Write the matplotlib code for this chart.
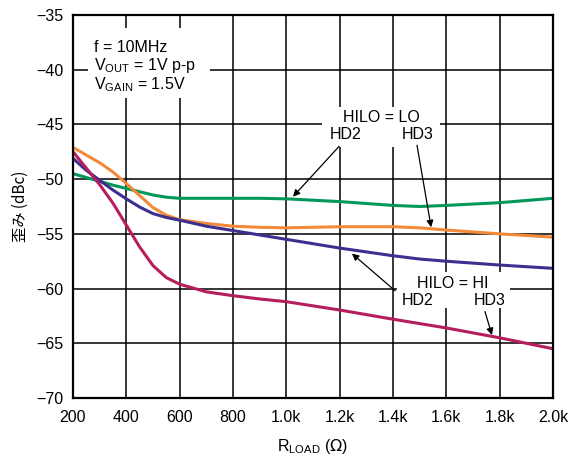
import matplotlib
matplotlib.use("Agg")
import matplotlib.pyplot as plt
from matplotlib.patches import Rectangle

r_load = [200, 250, 300, 350, 400, 450, 500, 550, 600, 700, 800, 900, 1000, 1200, 1400, 1500, 1600, 1800, 2000]
hd2_lo = [-49.5, -49.85, -50.2, -50.55, -50.85, -51.15, -51.45, -51.65, -51.75, -51.75, -51.75, -51.75, -51.8, -52.05, -52.4, -52.5, -52.4, -52.15, -51.75]
hd3_lo = [-47.1, -47.8, -48.5, -49.35, -50.4, -51.5, -52.6, -53.3, -53.7, -54.05, -54.3, -54.4, -54.45, -54.35, -54.35, -54.45, -54.65, -55.0, -55.3]
hd2_hi = [-48.1, -49.2, -50.1, -51.0, -51.8, -52.55, -53.15, -53.5, -53.75, -54.3, -54.7, -55.1, -55.5, -56.3, -57.0, -57.3, -57.5, -57.85, -58.15]
hd3_hi = [-47.5, -49.0, -50.5, -52.2, -54.2, -56.2, -57.9, -59.0, -59.6, -60.3, -60.65, -60.95, -61.2, -61.96, -62.8, -63.2, -63.6, -64.5, -65.5]

x_ticks = [200, 400, 600, 800, 1000, 1200, 1400, 1600, 1800, 2000]
x_tick_labels = ["200", "400", "600", "800", "1.0k", "1.2k", "1.4k", "1.6k", "1.8k", "2.0k"]
y_ticks = [-70, -65, -60, -55, -50, -45, -40, -35]

plt.rcParams['font.family'] = ['Liberation Sans', 'Noto Sans CJK JP', 'DejaVu Sans']

fig = plt.figure(figsize=(5.72, 4.59), dpi=100)
ax = fig.add_axes([0.1276, 0.1329, 0.8392, 0.8344])

lw = 2.2
ax.plot(r_load, hd2_lo, color="#00985a", lw=lw, zorder=3, solid_capstyle="butt")
ax.plot(r_load, hd3_lo, color="#f28a3a", lw=lw, zorder=3, solid_capstyle="butt")
ax.plot(r_load, hd2_hi, color="#3d2f8e", lw=lw, zorder=3, solid_capstyle="butt")
ax.plot(r_load, hd3_hi, color="#b71d5c", lw=lw, zorder=3, solid_capstyle="butt")

ax.set_xlim(200, 2000)
ax.set_ylim(-70, -35)
ax.set_xticks(x_ticks)
ax.set_xticklabels(x_tick_labels)
ax.set_yticks(y_ticks)
ax.set_yticklabels(["\u2212%d" % abs(v) for v in y_ticks])
ax.tick_params(length=0, labelsize=11.5)
ax.tick_params(axis="x", pad=9)
ax.tick_params(axis="y", pad=7)
ax.grid(True, color="black", lw=1.1)
for s in ax.spines.values():
    s.set_linewidth(1.6)
    s.set_zorder(6)

ax.set_xlabel(r"R$_{\mathregular{LOAD}}$ ($\Omega$)", fontsize=11.5, labelpad=8)
ax.set_ylabel("歪み (dBc)", fontsize=11, family=['Noto Sans CJK JP', 'DejaVu Sans'], labelpad=5)

fs = 11.5
# white boxes hiding grid behind annotations
for (x0, y0, x1, y1) in [(256, -42.6, 714, -36.2), (1134, -47.1, 1576, -43.4), (1415, -61.8, 1839, -58.5)]:
    ax.add_patch(Rectangle((x0, y0), x1 - x0, y1 - y0, facecolor="white", edgecolor="none", zorder=4))

ax.text(280, -37.3, "f = 10MHz\n" + r"V$_{\mathregular{OUT}}$ = 1V p-p" + "\n" + r"V$_{\mathregular{GAIN}}$ = 1.5V",
        fontsize=fs, va="top", ha="left", linespacing=1.05, zorder=5)

ax.text(1356, -44.4, "HILO = LO", fontsize=fs, ha="center", va="center", zorder=5)
ax.text(1224, -45.9, "HD2", fontsize=fs, ha="center", va="center", zorder=5)
ax.text(1491, -45.9, "HD3", fontsize=fs, ha="center", va="center", zorder=5)
arrow = dict(arrowstyle="-|>", color="black", lw=0.9, mutation_scale=10, shrinkA=0, shrinkB=0)
ax.annotate("", xy=(1025, -51.6), xytext=(1198, -47.0), arrowprops=arrow, zorder=6)
ax.annotate("", xy=(1543, -54.4), xytext=(1490, -46.9), arrowprops=arrow, zorder=6)

ax.text(1625, -59.5, "HILO = HI", fontsize=fs, ha="center", va="center", zorder=5)
ax.text(1494, -61.1, "HD2", fontsize=fs, ha="center", va="center", zorder=5)
ax.text(1764, -61.1, "HD3", fontsize=fs, ha="center", va="center", zorder=5)
ax.annotate("", xy=(1246, -56.8), xytext=(1408, -60.2), arrowprops=arrow, zorder=6)
ax.annotate("", xy=(1771, -64.25), xytext=(1745, -62.1), arrowprops=arrow, zorder=6)

fig.savefig("out.png", dpi=100)
